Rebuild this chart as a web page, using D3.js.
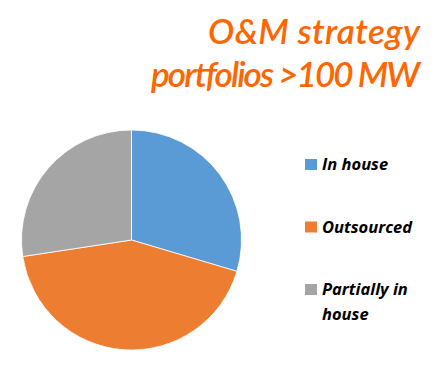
<!DOCTYPE html>
<html>
<head>
<meta charset="utf-8">
<script src="https://cdn.jsdelivr.net/npm/d3@7"></script>
<style>
  body { margin: 0; background: #fff; }
  text { font-family: Lato, "Open Sans", sans-serif; }
</style>
</head>
<body>
<div class="tool"></div>
<script>
var width = 442, height = 373;

var categories = ["In house", "Outsourced", "Partially in house"];
var shares = [29.6, 43.0, 27.4];
var colors = ["#5B9BD5", "#ED7D31", "#A5A5A5"];
var titleLines = ["O&M strategy", "portfolios >100 MW"];
var legendLines = [["In house"], ["Outsourced"], ["Partially in", "house"]];

var svg = d3.select(".tool")
    .append("svg")
    .attr("width", width)
    .attr("height", height);

// title, right aligned, stretched to the widths seen in the picture
var titleWidths = [212, 269];
svg.selectAll(".title")
    .data(titleLines)
    .enter().append("text")
    .attr("class", "title")
    .attr("x", function(d, i) { return 420 - titleWidths[i]; })
    .attr("y", function(d, i) { return 44 + i * 43; })
    .attr("textLength", function(d, i) { return titleWidths[i]; })
    .attr("lengthAdjust", "spacing")
    .style("font-size", "35px")
    .style("font-style", "italic")
    .style("font-weight", 600)
    .style("fill", "#FF6600")
    .text(function(d) { return d; });

var data = categories.map(function(c, i) { return {name: c, value: shares[i]}; });

var pie = d3.pie().sort(null).value(function(d) { return d.value; });
var arc = d3.arc().innerRadius(0).outerRadius(110);
var color = d3.scaleOrdinal().domain(categories).range(colors);

var g = svg.append("g").attr("transform", "translate(131.5,240)");
g.selectAll("path")
    .data(pie(data))
    .enter().append("path")
    .attr("d", arc)
    .attr("fill", function(d) { return color(d.data.name); })
    .attr("stroke", "#fff")
    .attr("stroke-width", 0.8);

// legend baselines at 170, 232, 295
var legendY = d3.scalePoint().domain(categories).range([170, 295]);

var item = svg.selectAll(".legend")
    .data(categories)
    .enter().append("g")
    .attr("class", "legend")
    .attr("transform", function(d) { return "translate(305," + legendY(d) + ")"; });

item.append("rect")
    .attr("y", -11)
    .attr("width", 12)
    .attr("height", 11)
    .attr("fill", function(d) { return color(d); });

item.append("text")
    .style("font-family", "'Open Sans', sans-serif")
    .style("font-size", "16.5px")
    .style("font-weight", "bold")
    .style("font-style", "italic")
    .style("fill", "#000")
    .selectAll("tspan")
    .data(function(d, i) { return legendLines[i]; })
    .enter().append("tspan")
    .attr("x", 17)
    .attr("y", function(d, i) { return i * 25; })
    .text(function(d) { return d; });
</script>
</body>
</html>
